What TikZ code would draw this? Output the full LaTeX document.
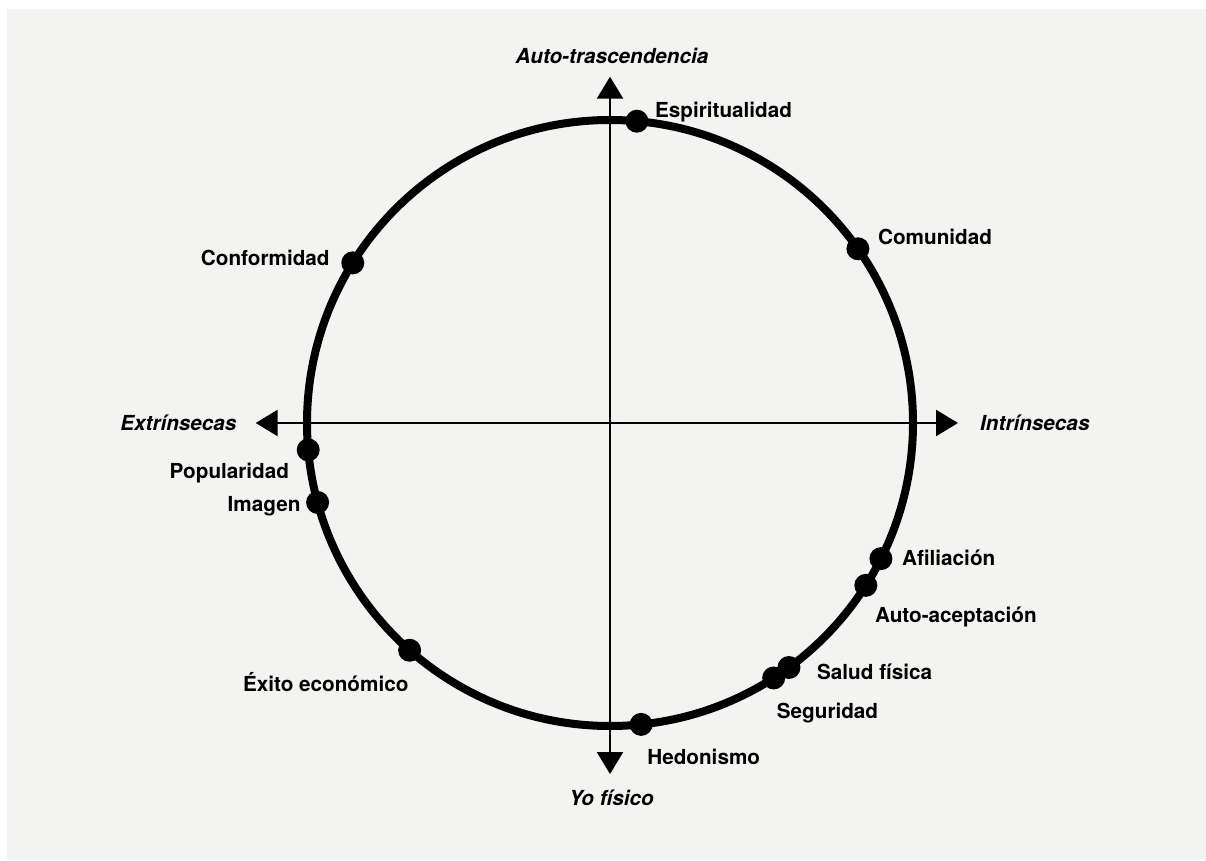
\documentclass[tikz,border=0pt]{standalone}
\usepackage{fontspec}
\setmainfont{TeX Gyre Heros}
\usetikzlibrary{arrows.meta}
\definecolor{paper}{RGB}{243,243,242}
\begin{document}
\begin{tikzpicture}[x=1pt,y=1pt,
	dot/.style={circle,fill=black,inner sep=0,minimum size=23pt},
	val/.style={inner sep=0,text height=15pt,text depth=0pt,font=\fontsize{20.7}{24}\selectfont\bfseries},
	pole/.style={val,font=\fontsize{20.7}{24}\selectfont\bfseries\itshape},
	axis/.style={line width=2.5pt,{Triangle[length=22pt,width=26pt]}-{Triangle[length=22pt,width=26pt]}}]
\useasboundingbox[fill=white] (0,0) rectangle (1206,860);
\fill[paper] (7,0) rectangle (1206,851);
\coordinate (o) at (610,437);
\coordinate (n) at (610,783.3);
\coordinate (s) at (610,86);
\coordinate (w) at (255.7,437);
\coordinate (e) at (958,437);
\draw[axis] (w) -- (e);
\draw[axis] (s) -- (n);
\node[pole] (trasc) at ([shift={(2,21)}]n) {Auto-trascendencia};
\node[pole] (yo) at ([shift={(1.5,-23.5)}]s) {Yo físico};
\node[pole,anchor=east] (extr) at ([xshift=-19]w) {Extrínsecas};
\node[pole,anchor=west] (intr) at ([xshift=22]e) {Intrínsecas};
\draw[line width=8pt] (o) circle (303);
\begin{scope}[shift={(o)}]
\foreach \a/\l/\t/\dx/\dy/\an in {84.9/espi/Espiritualidad/18/11/west, 35.1/comu/Comunidad/20/11.7/west,
	148.1/conf/Conformidad/-23/5.3/east, 185.1/popu/Popularidad/-19/-21/east, 195.2/imag/Imagen/-17/-2/east,
	228.6/exit/Éxito económico/-1/-34/east, -26.6/afil/Afiliación/21/1/west, -32.4/acep/Auto-aceptación/9/-30/west,
	-53.8/salu/Salud física/28/-4/west, -57.3/segu/Seguridad/3/-33/west, -84.1/hedo/Hedonismo/6/-33/west}{
	\node[dot] (\l) at (\a:303) {};
	\node[val,anchor=\an] (\l_t) at ([shift={(\dx,\dy)}]\l) {\t};
}
\end{scope}
\end{tikzpicture}
\end{document}
